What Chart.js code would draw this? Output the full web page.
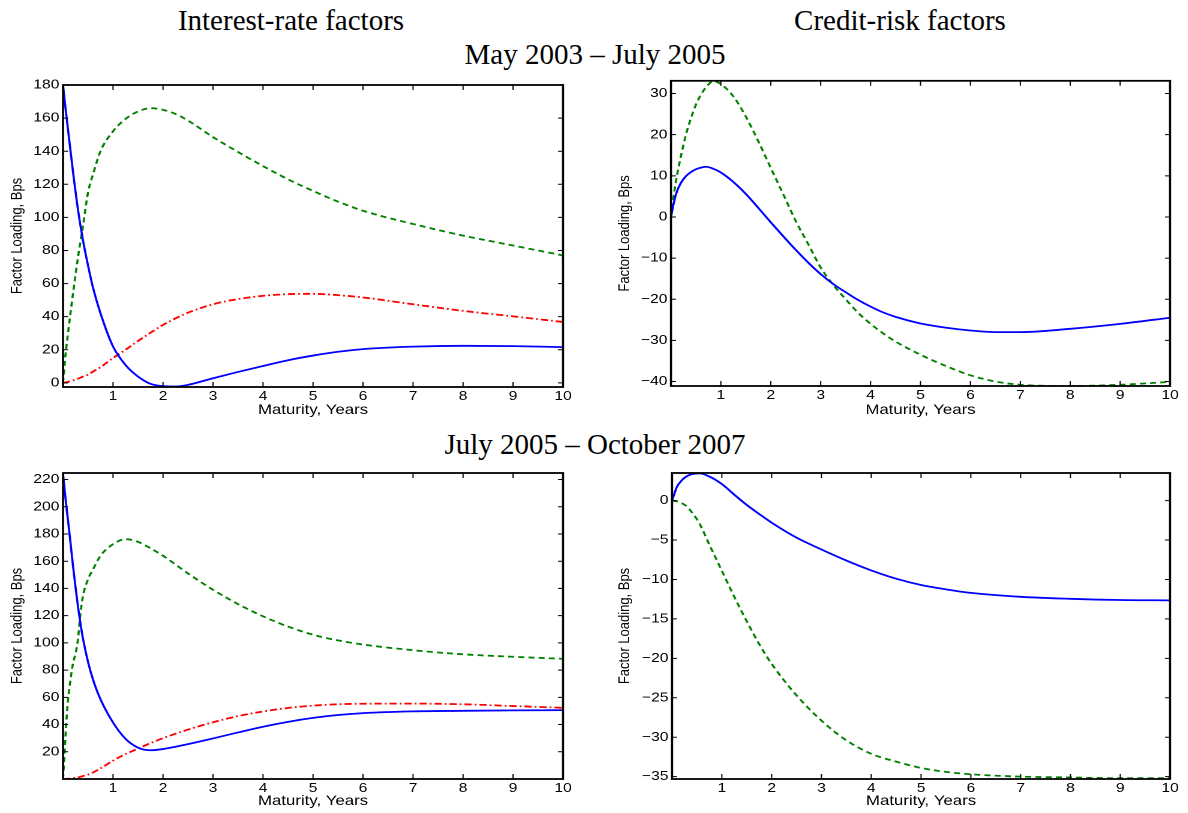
<!DOCTYPE html>
<html>
<head>
<meta charset="utf-8">
<title>Factor loadings</title>
<script src="https://cdn.jsdelivr.net/npm/chart.js@4.4.1/dist/chart.umd.min.js"></script>
<style>
  html, body { margin: 0; padding: 0; background: #fff; }
  body { width: 1188px; height: 813px; position: relative; overflow: hidden; }
  .head {
    position: absolute;
    font-family: 'Liberation Serif', 'Times New Roman', serif;
    font-size: 29px;
    line-height: 29px;
    white-space: nowrap;
    color: #000;
    transform: translateX(-50%);
  }
  .panel { position: absolute; transform-origin: 0 0; }
  .panel canvas { display: block; }
</style>
</head>
<body>
<div class="head" style="left:291px; top:6px">Interest-rate factors</div>
<div class="head" style="left:900px; top:6px">Credit-risk factors</div>
<div class="head" style="left:595px; top:40px">May 2003 – July 2005</div>
<div class="head" style="left:595px; top:430px">July 2005 – October 2007</div>

<div class="panel" id="p1" style="left:0px; top:70px"><canvas id="c1" width="492" height="360"></canvas></div>
<div class="panel" id="p2" style="left:595px; top:70px"><canvas id="c2" width="494" height="360"></canvas></div>
<div class="panel" id="p3" style="left:0px; top:460px"><canvas id="c3" width="492" height="353"></canvas></div>
<div class="panel" id="p4" style="left:595px; top:460px"><canvas id="c4" width="494" height="353"></canvas></div>

<script>
// maturities shared by every panel's x axis
const xTicks = [1, 2, 3, 4, 5, 6, 7, 8, 9, 10];

// May 2003 - July 2005, interest-rate factors
const rateA_mat = [0, 0.05, 0.1, 0.2, 0.3, 0.4, 0.5, 0.6, 0.75, 1, 1.25, 1.5, 1.75, 2, 2.25, 2.5, 3, 3.5, 4, 4.5, 5, 5.5, 6, 7, 8, 9, 10];
const rateA_f1 = [180, 166, 153, 127.5, 104.5, 86, 71, 57.5, 42, 22, 10.8, 3.8, -0.6, -2, -2.2, -1.2, 2.8, 6.6, 10.2, 13.7, 16.5, 18.8, 20.4, 21.9, 22.4, 22.2, 21.6];
const rateA_f2 = [0, 17, 30, 54, 76, 95, 115, 126, 140, 152, 159.5, 164, 166, 165, 162.5, 158.5, 148.5, 139.5, 131, 123, 116, 109.5, 104, 96, 89, 83, 77];
const rateA_f3 = [0, 0.2, 0.6, 1.5, 2.5, 3.8, 5, 6.8, 9.5, 15, 20, 25.3, 30.3, 35, 39, 42.4, 47.5, 50.6, 52.6, 53.6, 53.8, 53, 51.6, 47.5, 43.5, 40.2, 36.8];
const rateA_ticks = [0, 20, 40, 60, 80, 100, 120, 140, 160, 180];

// May 2003 - July 2005, credit-risk factors
const creditA_mat = [0, 0.05, 0.1, 0.2, 0.3, 0.4, 0.5, 0.6, 0.7, 0.85, 1, 1.25, 1.5, 1.75, 2, 2.25, 2.5, 2.75, 3, 3.25, 3.5, 3.75, 4, 4.25, 4.5, 5, 5.5, 6, 6.5, 7, 8, 9, 10];
const creditA_f1 = [0, 3, 5.5, 8.3, 9.9, 10.9, 11.6, 12, 12.2, 11.7, 10.8, 8.5, 5.6, 2.2, -1.3, -4.7, -8, -11.1, -13.9, -16.3, -18.3, -20.2, -21.8, -23.2, -24.3, -25.9, -26.9, -27.6, -28, -28, -27.2, -26, -24.5];
const creditA_f2 = [0, 4.7, 8.7, 14.8, 20, 24, 27.3, 29.7, 31.5, 33, 32.3, 29.3, 24.4, 18.4, 11.9, 5.5, -1, -6.6, -12.3, -16.5, -20, -23.3, -26, -28.3, -30.3, -33.5, -36.2, -38.5, -40, -40.8, -41.1, -40.8, -40.1];
const creditA_ticks = [-40, -30, -20, -10, 0, 10, 20, 30];

// July 2005 - October 2007, interest-rate factors
const rateB_mat = [0, 0.03, 0.06, 0.1, 0.15, 0.2, 0.25, 0.3, 0.35, 0.4, 0.5, 0.6, 0.75, 1, 1.25, 1.5, 1.75, 2, 2.5, 3, 3.5, 4, 4.5, 5, 5.5, 6, 7, 8, 9, 10];
const rateB_f1 = [224, 213.5, 202.5, 190, 173.5, 156.5, 141, 126.5, 114, 103, 86, 73, 58.5, 41.5, 29.5, 23, 21.1, 22, 25.6, 29.8, 34.2, 38.4, 42, 44.9, 47, 48.4, 49.7, 50.1, 50.4, 50.6];
const rateB_f2 = [0, 18, 38, 58, 73, 85, 92, 103, 122, 134.5, 146.7, 154, 164, 172.5, 176.2, 174.2, 169.5, 164, 151, 139, 128.5, 119.5, 112, 106, 101.8, 98.8, 94.6, 91.6, 89.8, 88.3];
const rateB_f3 = [0, 0, 0.1, 0.2, 0.4, 0.6, 0.9, 1.2, 1.6, 2.2, 3.2, 4.8, 7.8, 13.5, 18.3, 22.3, 26.3, 30, 36.3, 41.7, 46.2, 49.6, 52.2, 53.9, 54.9, 55.3, 55.4, 54.9, 53.6, 52.3];
const rateB_ticks = [20, 40, 60, 80, 100, 120, 140, 160, 180, 200, 220];

// July 2005 - October 2007, credit-risk factors
const creditB_mat = [0, 0.1, 0.2, 0.3, 0.4, 0.55, 0.75, 1, 1.25, 1.5, 1.75, 2, 2.5, 3, 3.5, 4, 4.5, 5, 5.5, 6, 7, 8, 9, 10];
const creditB_f1 = [0, 1.77, 2.6, 3.1, 3.35, 3.46, 3.05, 2.1, 0.75, -0.55, -1.7, -2.8, -4.7, -6.2, -7.6, -8.85, -9.9, -10.7, -11.25, -11.7, -12.2, -12.45, -12.6, -12.65];
const creditB_f2 = [0, -0.1, -0.35, -0.76, -1.5, -2.9, -5.6, -8.9, -12.2, -15.3, -18.2, -20.7, -24.7, -27.9, -30.4, -32.1, -33.1, -33.9, -34.4, -34.7, -35, -35.1, -35.2, -35.2];
const creditB_ticks = [-35, -30, -25, -20, -15, -10, -5, 0];

// the figure is widened horizontally, text and all
const STRETCH = 1.2;
const SANS = "'Liberation Sans', Arial, Helvetica, sans-serif";

const BLUE = { borderColor: '#0000ff', borderDash: [] };
const GREEN = { borderColor: '#008000', borderDash: [5, 3.5] };
const RED = { borderColor: '#ff0000', borderDash: [6, 2.5, 1.5, 2.5] };

function pts(xs, ys) {
  return xs.map((x, i) => ({ x: x, y: ys[i] }));
}

function minusLabel(v) {
  return v < 0 ? '\u2212' + Math.abs(v) : String(v);
}

// box around the plot area with inward ticks on all four sides
const framePlugin = {
  id: 'frame',
  afterDatasetsDraw(chart) {
    const { ctx, chartArea: a, scales: { x, y } } = chart;
    ctx.save();
    ctx.strokeStyle = '#000';
    ctx.lineWidth = 1;
    ctx.beginPath();
    x.ticks.forEach(t => {
      const px = x.getPixelForValue(t.value);
      ctx.moveTo(px, a.bottom);
      ctx.lineTo(px, a.bottom - 5);
      ctx.moveTo(px, a.top);
      ctx.lineTo(px, a.top + 5);
    });
    y.ticks.forEach(t => {
      const py = y.getPixelForValue(t.value);
      ctx.moveTo(a.left, py);
      ctx.lineTo(a.left + 4.2, py);
      ctx.moveTo(a.right, py);
      ctx.lineTo(a.right - 4.2, py);
    });
    ctx.stroke();
    ctx.lineWidth = 1.8;
    ctx.strokeRect(a.left, a.top, a.right - a.left, a.bottom - a.top);
    ctx.restore();
  }
};

function makePanel(p) {
  document.getElementById(p.box).style.transform = 'scaleX(' + STRETCH + ')';
  const datasets = p.series.map(s => Object.assign({
    data: pts(p.mat, s.values),
    borderWidth: 1.8,
    pointRadius: 0,
    fill: false,
    cubicInterpolationMode: 'monotone'
  }, s.style));

  return new Chart(document.getElementById(p.canvas), {
    type: 'line',
    data: { datasets },
    options: {
      responsive: false,
      animation: false,
      devicePixelRatio: 2,
      layout: { padding: { top: p.padTop, right: p.padRight, left: 0, bottom: 0 } },
      plugins: { legend: { display: false }, tooltip: { enabled: false } },
      scales: {
        x: {
          type: 'linear',
          min: 0,
          max: 10,
          afterBuildTicks: s => { s.ticks = xTicks.map(v => ({ value: v })); },
          afterFit: s => { s.height = p.xAxisHeight; },
          grid: { display: false, drawTicks: false },
          border: { display: false },
          ticks: { color: '#000', font: { family: SANS, size: 13 }, padding: 1.5, maxRotation: 0, autoSkip: false },
          title: {
            display: true,
            text: 'Maturity, Years',
            color: '#000',
            font: { family: SANS, size: 14 },
            padding: { top: 0, bottom: p.xTitlePad }
          }
        },
        y: {
          type: 'linear',
          min: p.yMin,
          max: p.yMax,
          afterBuildTicks: s => { s.ticks = p.yTicks.map(v => ({ value: v })); },
          afterFit: s => { s.width = p.yAxisWidth; },
          grid: { display: false, drawTicks: false },
          border: { display: false },
          ticks: { color: '#000', font: { family: SANS, size: 13 }, padding: 3, callback: minusLabel, autoSkip: false },
          title: {
            display: true,
            text: 'Factor Loading, Bps',
            color: '#000',
            font: { family: SANS, size: 13 },
            padding: { top: p.yTitlePad, bottom: 0 }
          }
        }
      }
    },
    plugins: [framePlugin]
  });
}

makePanel({
  box: 'p1', canvas: 'c1',
  mat: rateA_mat,
  series: [
    { values: rateA_f1, style: BLUE },
    { values: rateA_f2, style: GREEN },
    { values: rateA_f3, style: RED }
  ],
  yMin: -2.5, yMax: 180, yTicks: rateA_ticks,
  padTop: 15, padRight: 22.8, yAxisWidth: 52.5, xAxisHeight: 43,
  xTitlePad: 11.6, yTitlePad: 6.4
});

makePanel({
  box: 'p2', canvas: 'c2',
  mat: creditA_mat,
  series: [
    { values: creditA_f1, style: BLUE },
    { values: creditA_f2, style: GREEN }
  ],
  yMin: -41.1, yMax: 33.1, yTicks: creditA_ticks,
  padTop: 9, padRight: 14.8, yAxisWidth: 63.3, xAxisHeight: 44,
  xTitlePad: 11.6, yTitlePad: 17.2
});

makePanel({
  box: 'p3', canvas: 'c3',
  mat: rateB_mat,
  series: [
    { values: rateB_f1, style: BLUE },
    { values: rateB_f2, style: GREEN },
    { values: rateB_f3, style: RED }
  ],
  yMin: 0, yMax: 224.8, yTicks: rateB_ticks,
  padTop: 13, padRight: 22.8, yAxisWidth: 52.5, xAxisHeight: 34,
  xTitlePad: 3.6, yTitlePad: 6.4
});

makePanel({
  box: 'p4', canvas: 'c4',
  mat: creditB_mat,
  series: [
    { values: creditB_f1, style: BLUE },
    { values: creditB_f2, style: GREEN }
  ],
  yMin: -35.3, yMax: 3.5, yTicks: creditB_ticks,
  padTop: 13, padRight: 14.8, yAxisWidth: 64.2, xAxisHeight: 34,
  xTitlePad: 3.6, yTitlePad: 17.2
});
</script>
</body>
</html>
